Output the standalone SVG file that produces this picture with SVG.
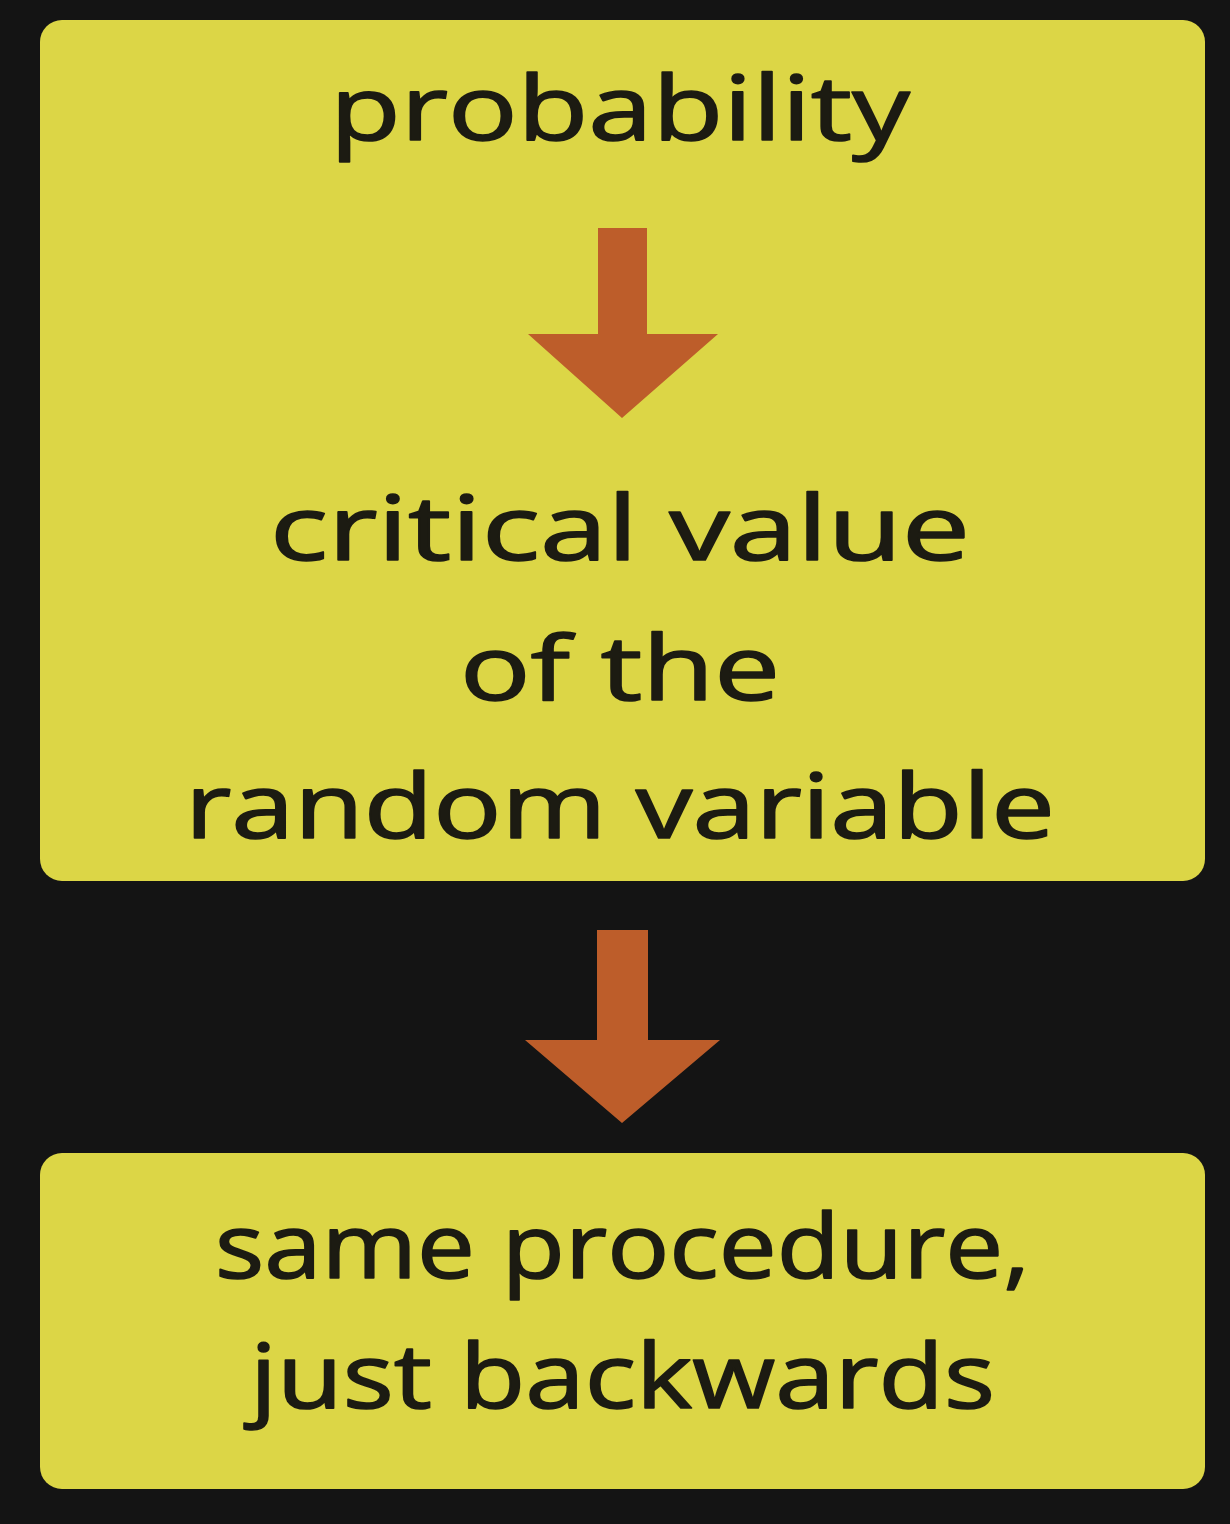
<svg xmlns="http://www.w3.org/2000/svg" width="1230" height="1524" viewBox="0 0 1230 1524">
  <style>
    .box { fill: #dcd646; }
    .lbl { font-family: "Open Sans", "Liberation Sans", sans-serif; font-size: 90px; fill: #1c1b12; stroke: #1c1b12; stroke-width: 1.6px; stroke-linejoin: round; text-anchor: start; }
    .arrow { fill: #bd5d2a; }
  </style>
  <rect x="0" y="0" width="1230" height="1524" fill="#141414"/>
  <g id="node-top">
    <rect class="box" x="40" y="20" width="1165" height="861" rx="22" ry="22"/>
    <text class="lbl" x="330" y="140" textLength="580" lengthAdjust="spacingAndGlyphs">probability</text>
    <text class="lbl" x="270" y="560" textLength="700" lengthAdjust="spacingAndGlyphs">critical value</text>
    <text class="lbl" x="460" y="700" textLength="320" lengthAdjust="spacingAndGlyphs">of the</text>
    <text class="lbl" x="185" y="838" textLength="870" lengthAdjust="spacingAndGlyphs">random variable</text>
  </g>
  <g id="node-bottom">
    <rect class="box" x="40" y="1153" width="1165" height="336" rx="22" ry="22"/>
    <text class="lbl" x="215" y="1278" textLength="815" lengthAdjust="spacingAndGlyphs">same procedure,</text>
    <text class="lbl" x="250" y="1408" textLength="745" lengthAdjust="spacingAndGlyphs">just backwards</text>
  </g>
  <g id="connectors">
    <polygon class="arrow" points="598,228 647,228 647,334 718,334 622,418 528,334 598,334"/>
    <polygon class="arrow" points="597,930 648,930 648,1040 720,1040 622,1123 525,1040 597,1040"/>
  </g>
</svg>
